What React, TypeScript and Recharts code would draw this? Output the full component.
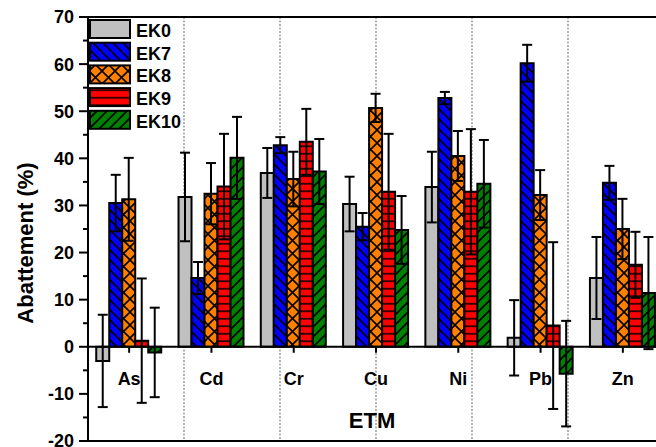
import React from "react";
import {
  BarChart,
  Bar,
  XAxis,
  YAxis,
  CartesianGrid,
  ErrorBar,
  ReferenceLine,
  Legend,
} from "recharts";

// values (Abattement %, with ± error)
const categories = ["As", "Cd", "Cr", "Cu", "Ni", "Pb", "Zn"];
const ek0 = [-3.0, 31.8, 36.9, 30.3, 33.9, 1.9, 14.6];
const ek0Err = [9.8, 9.4, 5.3, 5.8, 7.5, 8.0, 8.7];
const ek7 = [30.5, 14.6, 42.8, 25.5, 52.8, 60.2, 34.8];
const ek7Err = [6.0, 3.4, 1.7, 2.9, 1.3, 3.9, 3.6];
const ek8 = [31.3, 32.5, 35.6, 50.7, 40.5, 32.2, 25.0];
const ek8Err = [8.8, 6.5, 5.8, 3.0, 5.3, 5.3, 6.4];
const ek9 = [1.3, 34.0, 43.5, 32.9, 32.9, 4.5, 17.4];
const ek9Err = [13.2, 11.2, 7.0, 12.3, 13.3, 17.7, 7.0];
const ek10 = [-1.2, 40.1, 37.2, 24.8, 34.6, -5.7, 11.4];
const ek10Err = [9.5, 8.7, 6.9, 7.2, 9.3, 11.2, 11.9];
const yTicks = [-20, -15, -10, -5, 0, 5, 10, 15, 20, 25, 30, 35, 40, 45, 50, 55, 60, 65, 70];
const separators = [1, 2, 3, 4, 5, 6];

const data = categories.map((etm, i) => ({
  etm,
  ek0: ek0[i],
  ek0Err: ek0Err[i],
  ek7: ek7[i],
  ek7Err: ek7Err[i],
  ek8: ek8[i],
  ek8Err: ek8Err[i],
  ek9: ek9[i],
  ek9Err: ek9Err[i],
  ek10: ek10[i],
  ek10Err: ek10Err[i],
}));

const series = [
  { key: "ek0", name: "EK0", fill: "#c0c0c0" },
  { key: "ek7", name: "EK7", fill: "url(#pat-ek7)" },
  { key: "ek8", name: "EK8", fill: "url(#pat-ek8)" },
  { key: "ek9", name: "EK9", fill: "url(#pat-ek9)" },
  { key: "ek10", name: "EK10", fill: "url(#pat-ek10)" },
];

const FONT = "'Liberation Sans', Arial, sans-serif";
const CHART_W = 680;
const CHART_H = 447;
const PLOT_LEFT = 88;
const PLOT_TOP = 17;
const PLOT_BOTTOM = 441;
const Y_MIN = -20;
const Y_MAX = 70;
// pixel row of the zero line, where the category labels hang
const Y0 = PLOT_TOP + ((PLOT_BOTTOM - PLOT_TOP) * Y_MAX) / (Y_MAX - Y_MIN);

function Patterns() {
  return (
    <svg width={0} height={0} style={{ position: "absolute" }}>
      <defs>
        <pattern id="pat-ek7" patternUnits="userSpaceOnUse" width={10} height={10}>
          <rect width={10} height={10} fill="#0000ff" />
          <path d="M-5,5 L5,15 M0,0 L10,10 M5,-5 L15,5" stroke="#000" strokeWidth={1.6} />
        </pattern>
        <pattern id="pat-ek8" patternUnits="userSpaceOnUse" width={13} height={13}>
          <rect width={13} height={13} fill="#ff8000" />
          <path d="M0,0 L13,13 M13,0 L0,13" stroke="#000" strokeWidth={1.6} />
        </pattern>
        <pattern id="pat-ek9" patternUnits="userSpaceOnUse" width={10} height={7.5}>
          <rect width={10} height={7.5} fill="#ff0000" />
          <path d="M0,3.75 L10,3.75" stroke="#000" strokeWidth={1.5} />
        </pattern>
        <pattern id="pat-ek10" patternUnits="userSpaceOnUse" width={10} height={10}>
          <rect width={10} height={10} fill="#008000" />
          <path d="M-5,5 L5,-5 M0,10 L10,0 M5,15 L15,5" stroke="#000" strokeWidth={1.6} />
        </pattern>
      </defs>
    </svg>
  );
}

function YTick(props: any) {
  const { y, payload } = props;
  const v = payload.value as number;
  const major = v % 10 === 0;
  return (
    <g>
      <line x1={PLOT_LEFT - (major ? 9 : 5)} x2={PLOT_LEFT} y1={y} y2={y} stroke="#000" strokeWidth={2} />
      {major && (
        <text x={74} y={y} dy="0.36em" textAnchor="end" fontFamily={FONT} fontSize={18} fontWeight="bold" fill="#000">
          {v}
        </text>
      )}
    </g>
  );
}

function CategoryTick(props: any) {
  const { x, payload } = props;
  return (
    <g>
      <line x1={x} x2={x} y1={Y0} y2={Y0 + 6} stroke="#000" strokeWidth={2} />
      <text x={x} y={Y0 + 38} textAnchor="middle" fontFamily={FONT} fontSize={18} fontWeight="bold" fill="#000">
        {payload.value}
      </text>
    </g>
  );
}

function SeparatorTick(props: any) {
  const { x } = props;
  return <line x1={x} x2={x} y1={Y0} y2={Y0 + 4} stroke="#000" strokeWidth={2} />;
}

function TopTick(props: any) {
  const { x } = props;
  return <line x1={x} x2={x} y1={PLOT_TOP} y2={PLOT_TOP + 4} stroke="#000" strokeWidth={1.5} />;
}

function LegendBox() {
  const step = 22.7;
  return (
    <svg width={100} height={120}>
      {series.map((s, i) => (
        <g key={s.key}>
          <rect x={1} y={1 + i * step} width={40} height={18} fill={s.fill} stroke="#000" strokeWidth={2} />
          <text x={47} y={18 + i * step} fontFamily={FONT} fontSize={18} fontWeight="bold" fill="#000">
            {s.name}
          </text>
        </g>
      ))}
    </svg>
  );
}

export default function App() {
  return (
    <div
      style={{
        position: "absolute",
        left: 0,
        top: 0,
        width: 656,
        height: 447,
        overflow: "hidden",
        background: "#fff",
      }}
    >
      <Patterns />
      <BarChart
        width={CHART_W}
        height={CHART_H}
        data={data}
        margin={{ top: PLOT_TOP, right: CHART_W - 664, bottom: 0, left: 0 }}
        barCategoryGap="10%"
        barGap={0}
      >
        <XAxis xAxisId="sep" type="number" domain={[0, 7]} ticks={separators} axisLine={false} tickLine={false} tick={<SeparatorTick />} height={0} />
        <CartesianGrid xAxisId="sep" horizontal={false} stroke="#8a8a8a" strokeWidth={1.3} strokeDasharray="2 1.5" />
        <XAxis
          dataKey="etm"
          interval={0}
          height={CHART_H - PLOT_BOTTOM}
          axisLine={{ stroke: "#000", strokeWidth: 2 }}
          tickLine={false}
          tick={<CategoryTick />}
        />
        <XAxis xAxisId="top" dataKey="etm" orientation="top" interval={0} height={0} axisLine={false} tickLine={false} tick={<TopTick />} />
        <YAxis
          type="number"
          domain={[Y_MIN, Y_MAX]}
          ticks={yTicks}
          interval={0}
          width={PLOT_LEFT}
          axisLine={{ stroke: "#000", strokeWidth: 2 }}
          tickLine={false}
          tick={<YTick />}
        />
        <ReferenceLine y={Y_MAX} stroke="#000" strokeWidth={2} />
        {series.map((s) => (
          <Bar
            key={s.key}
            dataKey={s.key}
            name={s.name}
            fill={s.fill}
            stroke="#000"
            strokeWidth={2}
            isAnimationActive={false}
          >
            <ErrorBar dataKey={s.key + "Err"} width={5} stroke="#000" strokeWidth={2} direction="y" />
          </Bar>
        ))}
        <ReferenceLine y={0} stroke="#000" strokeWidth={2} />
        <Legend
          layout="vertical"
          align="center"
          verticalAlign="middle"
          content={() => <LegendBox />}
          wrapperStyle={{ left: 89, top: 19, width: 100, height: 120 }}
        />
        <text x={372} y={428} textAnchor="middle" fontFamily={FONT} fontSize={22} fontWeight="bold" fill="#000">
          ETM
        </text>
        <text
          x={33}
          y={243}
          textAnchor="middle"
          transform="rotate(-90 33 243)"
          fontFamily={FONT}
          fontSize={22}
          fontWeight="bold"
          fill="#000"
        >
          Abattement (%)
        </text>
      </BarChart>
    </div>
  );
}
